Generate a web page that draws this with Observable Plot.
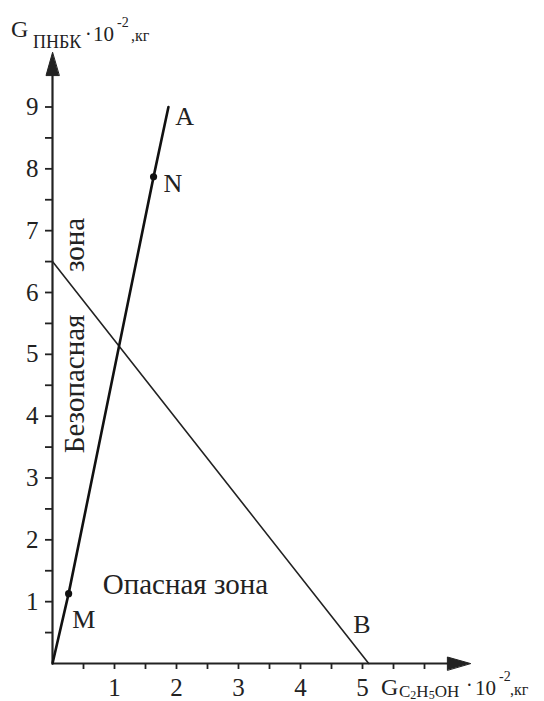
<!DOCTYPE html>
<html><head><meta charset="utf-8">
<script src="https://cdn.jsdelivr.net/npm/d3@7"></script>
<script src="https://cdn.jsdelivr.net/npm/@observablehq/plot@0.6"></script>
<style>html,body{margin:0;padding:0;background:#fff}#chart svg{display:block}#chart svg text{font-family:"Liberation Serif","Times New Roman",serif}</style>
</head><body><div id="chart"></div>
<script>
// ---- data ----
const xTicks = [0.5, 1, 1.5, 2, 2.5, 3, 3.5, 4, 4.5, 5, 5.5, 6];
const yTicks = [0.5, 1, 1.5, 2, 2.5, 3, 3.5, 4, 4.5, 5, 5.5, 6, 6.5, 7, 7.5, 8, 8.5, 9];
const xTickLabels = [1, 2, 3, 4, 5];
const yTickLabels = [1, 2, 3, 4, 5, 6, 7, 8, 9];
const xAxisEnd = 6.74;
const yAxisEnd = 9.88;

// line O–M–N–A (boundary)
const lineOAx = [0, 0.26, 1.63, 1.87];
const lineOAy = [0, 1.13, 7.87, 9.0];
// line from y-axis to B
const lineABx = [0, 5.1];
const lineABy = [6.5, 0];

// marked points
const pointNames = ["M", "N"];
const pointX = [0.26, 1.63];
const pointY = [1.13, 7.87];

// letter annotations
const letterNames = ["A", "N", "M", "B"];
const letterX = [1.98, 1.79, 0.32, 4.85];
const letterY = [8.71, 7.62, 0.57, 0.49];

// zone annotations
const dangerText = "Опасная зона";
const dangerX = 0.81, dangerY = 1.13;
const safeWords = ["Безопасная", "зона"];
const safeX = [0.5, 0.5];
const safeY = [3.4, 6.33];

// ---- build ----
const ink = "#222";
const font = '"Liberation Serif", "Times New Roman", serif';
const oa = lineOAx.map((x, i) => ({x, y: lineOAy[i]}));
const ab = lineABx.map((x, i) => ({x, y: lineABy[i]}));
const pts = pointNames.map((n, i) => ({n, x: pointX[i], y: pointY[i]}));
const letters = letterNames.map((n, i) => ({n, x: letterX[i], y: letterY[i]}));
const safe = safeWords.map((n, i) => ({n, x: safeX[i], y: safeY[i]}));
const arrowHeads = [{x: 0, y: yAxisEnd, rot: 0}, {x: xAxisEnd, y: 0, rot: 90}];
const headLen = 23;
const headShape = {draw(ctx, l, r) { ctx.moveTo(0, -l); ctx.lineTo(-r, 0); ctx.lineTo(r, 0); ctx.closePath(); }};

const chart = Plot.plot({
  width: 544, height: 701,
  marginLeft: 52, marginBottom: 38, marginTop: 0, marginRight: 0,
  style: {fontFamily: font, background: "#fff", color: ink, overflow: "visible"},
  x: {domain: [0, 6], range: [52, 424]},
  y: {domain: [0, 9], range: [663, 106.5]},
  marks: [
    // axis lines
    Plot.ruleY([0], {x1: 0, x2: xAxisEnd - 0.2, stroke: ink, strokeWidth: 2.2}),
    Plot.ruleX([0], {y1: 0, y2: yAxisEnd - 0.2, stroke: ink, strokeWidth: 2.2}),
    Plot.vector(arrowHeads, {x: "x", y: "y", rotate: "rot", length: headLen, r: 6.5, anchor: "end", shape: headShape, fill: ink, stroke: ink, strokeWidth: 1}),
    // ticks
    Plot.axisX({ticks: xTicks, tickSize: 6, tickFormat: d => xTickLabels.includes(d) ? String(d) : "", tickPadding: 9, fontSize: 25, fontFamily: font, stroke: ink, strokeWidth: 1.8, label: null}),
    Plot.axisY({ticks: yTicks, tickSize: 7, tickFormat: d => yTickLabels.includes(d) ? String(d) : "", tickPadding: 7, fontSize: 25, fontFamily: font, stroke: ink, strokeWidth: 1.8, label: null}),
    // lines
    Plot.line(ab, {x: "x", y: "y", stroke: ink, strokeWidth: 1.6}),
    Plot.line(oa, {x: "x", y: "y", stroke: "#111", strokeWidth: 2.6}),
    Plot.dot(pts, {x: "x", y: "y", r: 3.6, fill: "#111"}),
    // annotations
    Plot.text(letters, {x: "x", y: "y", text: "n", textAnchor: "start", lineAnchor: "bottom", fontSize: 26, fontFamily: font, fill: ink}),
    Plot.text([dangerText], {x: () => dangerX, y: () => dangerY, text: d => d, textAnchor: "start", lineAnchor: "bottom", fontSize: 29, fontFamily: font, fill: ink}),
    Plot.text(safe, {x: "x", y: "y", text: "n", rotate: -90, textAnchor: "start", lineAnchor: "bottom", fontSize: 29, fontFamily: font, fill: ink})
  ]
});
document.getElementById("chart").appendChild(chart);

// axis titles with sub/superscripts
const svg = d3.select(chart);
function title(parts) {
  const g = svg.append("g").attr("fill", ink).attr("font-family", font).attr("text-anchor", "start");
  for (const p of parts) {
    g.append("text").attr("x", p.x).attr("y", p.y).attr("font-size", p.s).text(p.t);
  }
  return g;
}
title([
  {t: "G", x: 11, y: 37, s: 24},
  {t: "ПНБК", x: 33, y: 48, s: 18},
  {t: "·", x: 85, y: 41, s: 20},
  {t: "10", x: 93, y: 41, s: 21},
  {t: "-2", x: 117, y: 27, s: 14},
  {t: ",кг", x: 131, y: 41, s: 16}
]);
const gx = title([
  {t: "G", x: 381, y: 695, s: 24},
  {t: "·", x: 466, y: 692, s: 20},
  {t: "10", x: 475, y: 695, s: 21},
  {t: "-2", x: 499, y: 681, s: 14},
  {t: ",кг", x: 510, y: 695, s: 16}
]);
// subscript C2H5OH
const sub = gx.append("text").attr("x", 399).attr("y", 697).attr("font-size", 17);
sub.append("tspan").text("C");
sub.append("tspan").attr("font-size", 12).attr("dy", 2).text("2");
sub.append("tspan").attr("dy", -2).text("H");
sub.append("tspan").attr("font-size", 12).attr("dy", 2).text("5");
sub.append("tspan").attr("dy", -2).text("OH");
</script>
</body></html>
